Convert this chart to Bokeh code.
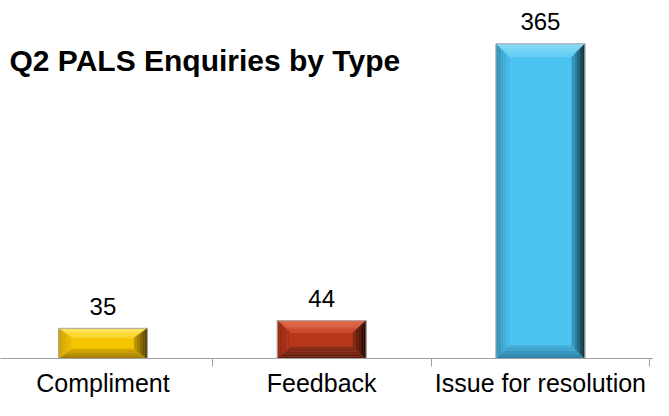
from bokeh.plotting import figure
from bokeh.models import Range1d, LinearAxis, FixedTicker, CustomJSTickFormatter, ColumnDataSource, Label
from bokeh.core.properties import value
from bokeh.embed import file_html
from bokeh.resources import INLINE

# ---- data ----
categories = ["Compliment", "Feedback", "Issue for resolution"]
counts = [35, 44, 365]
title_text = "Q2 PALS Enquiries by Type"

# ---- styling (bevel colours: outer edge -> inner edge) ----
face = ["#F4C500", "#B5361B", "#4CC4F1"]
top_c = [("#FFE866", "#FBD420"), ("#E2704F", "#C8472A"), ("#8ADCF8", "#5DCBF3")]
left_c = [("#CFA000", "#EDBE00"), ("#94280F", "#B0341A"), ("#2F8DB3", "#4ABDE8")]
right_c = [("#4A3800", "#C49A00"), ("#1E0602", "#8A2812"), ("#0A2530", "#3DA3CB")]
bottom_c = [("#9C7700", "#D9AC00"), ("#5E1A0A", "#93301A"), ("#2C7FA3", "#45B2DC")]

FONT = "Liberation Sans"
W, H = 653, 400
x_start, x_end = 0.0316, 3.017
y_end = 415.3
BOTTOM = 42
px_per_x = W / (x_end - x_start)
frame_h = H - BOTTOM
px_per_y = frame_h / y_end

xpos = [i + 0.5 for i in range(len(categories))]
bar_w = 0.406


def mix(c1, c2, t):
    a = [int(c1[i:i + 2], 16) for i in (1, 3, 5)]
    b = [int(c2[i:i + 2], 16) for i in (1, 3, 5)]
    return "#%02x%02x%02x" % tuple(round(a[k] + (b[k] - a[k]) * t) for k in range(3))


p = figure(width=W, height=H, output_backend="svg", toolbar_location=None,
           x_range=Range1d(x_start, x_end), y_range=Range1d(0, y_end),
           x_axis_location=None, y_axis_location=None,
           min_border_left=0, min_border_right=0, min_border_top=0, min_border_bottom=BOTTOM)
p.xgrid.visible = False
p.ygrid.visible = False
p.outline_line_color = None
p.background_fill_color = "white"
p.border_fill_color = "white"

# bevelled bars built from the values
NB = 5
bx = 13 / px_per_x
pxs, pys, pcs = [], [], []
for i, (xc, v) in enumerate(zip(xpos, counts)):
    x0, x1 = xc - bar_w / 2, xc + bar_w / 2
    by = min(13, v * px_per_y / 3.2) / px_per_y
    # face
    pxs.append([x0 + bx, x1 - bx, x1 - bx, x0 + bx])
    pys.append([by, by, v - by, v - by])
    pcs.append(face[i])
    for k in range(NB):
        t0, t1 = k / NB, (k + 1) / NB
        tm = (k + 0.5) / NB
        # top
        pxs.append([x0 + t0 * bx, x1 - t0 * bx, x1 - t1 * bx, x0 + t1 * bx])
        pys.append([v - t0 * by, v - t0 * by, v - t1 * by, v - t1 * by])
        pcs.append(mix(*top_c[i], tm))
        # bottom
        pxs.append([x0 + t0 * bx, x1 - t0 * bx, x1 - t1 * bx, x0 + t1 * bx])
        pys.append([t0 * by, t0 * by, t1 * by, t1 * by])
        pcs.append(mix(*bottom_c[i], tm))
        # left
        pxs.append([x0 + t0 * bx, x0 + t0 * bx, x0 + t1 * bx, x0 + t1 * bx])
        pys.append([t0 * by, v - t0 * by, v - t1 * by, t1 * by])
        pcs.append(mix(*left_c[i], tm))
        # right
        pxs.append([x1 - t0 * bx, x1 - t0 * bx, x1 - t1 * bx, x1 - t1 * bx])
        pys.append([t0 * by, v - t0 * by, v - t1 * by, t1 * by])
        pcs.append(mix(*right_c[i], tm))

p.patches(pxs, pys, fill_color=pcs, line_color=pcs, line_width=0.6)
p.vbar(x=xpos, top=counts, bottom=0, width=bar_w, fill_alpha=0,
       line_color="#A8A8A8", line_width=1)

# value labels
src = ColumnDataSource(dict(x=xpos, y=counts, t=[str(c) for c in counts]))
p.text(x="x", y="y", text="t", source=src, text_align="center", text_baseline="middle",
       y_offset=-22, text_font=value(FONT), text_font_size="24px", text_color="black")

# title
p.add_layout(Label(x=x_start + 9 / px_per_x, y=(frame_h - 60) / px_per_y, text=title_text,
                   text_font=FONT, text_font_size="30px", text_font_style="bold",
                   text_baseline="middle", text_color="black"))

# category axis: labels at centres, ticks at boundaries
ax = LinearAxis(
    ticker=FixedTicker(ticks=xpos, minor_ticks=[1, 2, 3]),
    formatter=CustomJSTickFormatter(args=dict(labels=categories), code="return labels[index];"),
)
ax.axis_line_color = "#A0A0A0"
ax.axis_line_width = 1
ax.major_tick_out = 0
ax.major_tick_in = 0
ax.minor_tick_out = 8
ax.minor_tick_in = 0
ax.minor_tick_line_color = "#A0A0A0"
ax.major_label_standoff = 2
ax.major_label_text_font = FONT
ax.major_label_text_font_size = "25px"
ax.major_label_text_line_height = 1.0
ax.major_label_text_color = "black"
p.add_layout(ax, "below")

open("out.html", "w").write(file_html(p, INLINE))
